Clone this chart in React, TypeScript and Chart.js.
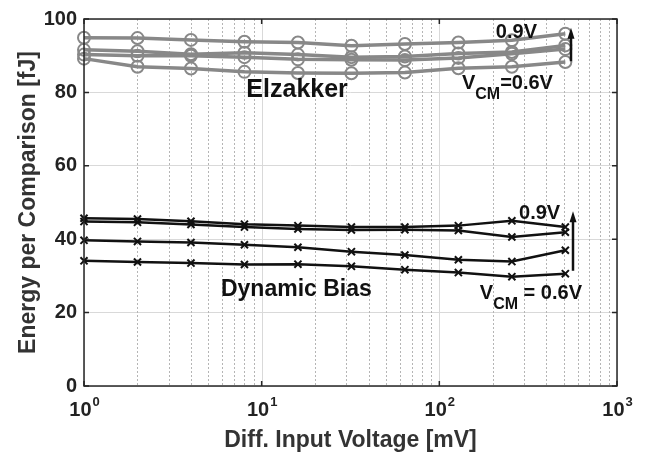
import React, { useEffect, useRef } from 'react';
import { Chart, registerables } from 'chart.js';

Chart.register(...registerables);

// ---------- data ----------
const diffInputVoltage = [1, 2, 4, 8, 16, 32, 64, 128, 256, 512];

const elzakker09V = [94.9, 94.8, 94.3, 93.8, 93.6, 92.7, 93.2, 93.6, 94.2, 96.0];
const elzakker08V = [91.6, 91.2, 90.4, 90.8, 90.3, 89.6, 89.8, 90.6, 91.0, 92.8];
const elzakker07V = [90.3, 90.0, 90.0, 89.6, 89.0, 88.9, 88.8, 89.4, 90.5, 91.8];
const elzakker06V = [89.2, 87.0, 86.5, 85.6, 85.3, 85.2, 85.4, 86.6, 87.0, 88.3];

const dynBias09V = [45.7, 45.5, 44.9, 44.1, 43.7, 43.3, 43.3, 43.7, 45.0, 43.3];
const dynBias08V = [44.8, 44.6, 44.0, 43.3, 42.8, 42.5, 42.6, 42.4, 40.6, 41.9];
const dynBias07V = [39.7, 39.4, 39.1, 38.5, 37.8, 36.6, 35.7, 34.4, 33.9, 37.0];
const dynBias06V = [34.1, 33.8, 33.5, 33.1, 33.2, 32.6, 31.7, 30.9, 29.8, 30.6];

const yTickValues = [0, 20, 40, 60, 80, 100];
const xTickExponents = [0, 1, 2, 3];

const xTitle = 'Diff. Input Voltage [mV]';
const yTitle = 'Energy per Comparison [fJ]';

// ---------- styles ----------
const FONT = '"Liberation Sans", Arial, Helvetica, sans-serif';
const GRAY = '#888888';
const BLACK = '#111111';

const toPoints = (vals: number[]) => vals.map((v, i) => ({ x: diffInputVoltage[i], y: v }));

const elzStyle = {
  borderColor: GRAY,
  borderWidth: 3.5,
  pointStyle: 'circle',
  pointRadius: 6,
  pointBorderWidth: 2,
  pointBorderColor: GRAY,
  pointBackgroundColor: 'rgba(0,0,0,0)',
  clip: false as any,
};
const dbStyle = {
  borderColor: BLACK,
  borderWidth: 2.5,
  pointStyle: 'crossRot',
  pointRadius: 5,
  pointBorderWidth: 2,
  pointBorderColor: BLACK,
  pointBackgroundColor: BLACK,
  clip: false as any,
};

function drawRich(ctx: CanvasRenderingContext2D, x: number, y: number, parts: { t: string; size: number; dy?: number }[]) {
  let cx = x;
  for (const p of parts) {
    ctx.font = `bold ${p.size}px ${FONT}`;
    ctx.fillText(p.t, cx, y + (p.dy || 0));
    cx += ctx.measureText(p.t).width;
  }
}

function drawArrow(ctx: CanvasRenderingContext2D, x: number, yFrom: number, yTo: number) {
  const head = 11;
  const hw = 3.5;
  ctx.strokeStyle = BLACK;
  ctx.fillStyle = BLACK;
  ctx.lineWidth = 2.5;
  ctx.beginPath();
  ctx.moveTo(x, yFrom);
  ctx.lineTo(x, yTo + head - 1);
  ctx.stroke();
  ctx.beginPath();
  ctx.moveTo(x, yTo);
  ctx.lineTo(x - hw, yTo + head);
  ctx.lineTo(x + hw, yTo + head);
  ctx.closePath();
  ctx.fill();
}

const decorPlugin = {
  id: 'decor',
  beforeDatasetsDraw(chart: any) {
    const { ctx, chartArea: a, scales } = chart;
    const x = scales.x;
    ctx.save();
    // minor dotted x grid
    ctx.strokeStyle = '#b5b5b5';
    ctx.lineWidth = 1;
    ctx.setLineDash([2, 2]);
    for (let d = 0; d < 3; d++) {
      for (let k = 2; k <= 9; k++) {
        const px = Math.round(x.getPixelForValue(k * Math.pow(10, d))) + 0.5;
        ctx.beginPath();
        ctx.moveTo(px, a.top);
        ctx.lineTo(px, a.bottom);
        ctx.stroke();
      }
    }
    // major x grid
    ctx.setLineDash([]);
    ctx.strokeStyle = '#d9d9d9';
    for (const e of xTickExponents) {
      const px = Math.round(x.getPixelForValue(Math.pow(10, e))) + 0.5;
      ctx.beginPath();
      ctx.moveTo(px, a.top);
      ctx.lineTo(px, a.bottom);
      ctx.stroke();
    }
    ctx.restore();
  },
  afterDraw(chart: any) {
    const { ctx, chartArea: a, scales } = chart;
    const x = scales.x;
    const y = scales.y;
    ctx.save();
    // frame
    ctx.strokeStyle = '#262626';
    ctx.lineWidth = 1.5;
    ctx.strokeRect(a.left, a.top, a.right - a.left, a.bottom - a.top);
    // tick marks (inward)
    const tl = 5;
    ctx.beginPath();
    for (const v of yTickValues) {
      const py = y.getPixelForValue(v);
      ctx.moveTo(a.left, py);
      ctx.lineTo(a.left + tl, py);
      ctx.moveTo(a.right, py);
      ctx.lineTo(a.right - tl, py);
    }
    for (const e of xTickExponents) {
      const px = x.getPixelForValue(Math.pow(10, e));
      ctx.moveTo(px, a.bottom);
      ctx.lineTo(px, a.bottom - tl);
      ctx.moveTo(px, a.top);
      ctx.lineTo(px, a.top + tl);
    }
    ctx.stroke();

    // x tick labels 10^n
    ctx.fillStyle = '#222222';
    ctx.textBaseline = 'alphabetic';
    ctx.textAlign = 'left';
    for (const e of xTickExponents) {
      const px = x.getPixelForValue(Math.pow(10, e));
      ctx.font = `bold 20px ${FONT}`;
      const wb = ctx.measureText('10').width;
      ctx.font = `bold 13px ${FONT}`;
      const we = ctx.measureText(String(e)).width;
      const sx = px - (wb + we) / 2;
      ctx.font = `bold 20px ${FONT}`;
      ctx.fillText('10', sx, a.bottom + 30);
      ctx.font = `bold 13px ${FONT}`;
      ctx.fillText(String(e), sx + wb + 1, a.bottom + 20);
    }

    // annotations (anchored in data coordinates)
    ctx.fillStyle = BLACK;
    const X = (v: number) => x.getPixelForValue(v);
    const Y = (v: number) => y.getPixelForValue(v);
    drawRich(ctx, X(8.2), Y(78.8), [{ t: 'Elzakker', size: 25 }]);
    drawRich(ctx, X(5.9), Y(24.5), [{ t: 'Dynamic Bias', size: 23 }]);
    drawRich(ctx, X(208), Y(94.9), [{ t: '0.9V', size: 20 }]);
    drawRich(ctx, X(134), Y(80.9), [
      { t: 'V', size: 20 },
      { t: 'CM', size: 16, dy: 10 },
      { t: '=0.6V', size: 20 },
    ]);
    drawRich(ctx, X(281), Y(45.5), [{ t: '0.9V', size: 20 }]);
    drawRich(ctx, X(169), Y(23.7), [
      { t: 'V', size: 20 },
      { t: 'CM', size: 16, dy: 10 },
      { t: ' = 0.6V', size: 20 },
    ]);
    drawArrow(ctx, Math.round(X(551)), Y(88.5), Y(97.6));
    drawArrow(ctx, Math.round(X(565)), Y(31.4), Y(47.6));
    ctx.restore();
  },
};

export default function App() {
  const ref = useRef<HTMLCanvasElement | null>(null);

  useEffect(() => {
    if (!ref.current) return;
    const chart = new Chart(ref.current, {
      type: 'line',
      data: {
        datasets: [
          { label: 'Elzakker 0.9V', data: toPoints(elzakker09V), ...elzStyle },
          { label: 'Elzakker 0.8V', data: toPoints(elzakker08V), ...elzStyle },
          { label: 'Elzakker 0.7V', data: toPoints(elzakker07V), ...elzStyle },
          { label: 'Elzakker 0.6V', data: toPoints(elzakker06V), ...elzStyle },
          { label: 'Dynamic Bias 0.9V', data: toPoints(dynBias09V), ...dbStyle },
          { label: 'Dynamic Bias 0.8V', data: toPoints(dynBias08V), ...dbStyle },
          { label: 'Dynamic Bias 0.7V', data: toPoints(dynBias07V), ...dbStyle },
          { label: 'Dynamic Bias 0.6V', data: toPoints(dynBias06V), ...dbStyle },
        ] as any,
      },
      options: {
        animation: false,
        responsive: false,
        maintainAspectRatio: false,
        layout: { padding: { top: 10, right: 33, bottom: 0, left: 0 } },
        plugins: { legend: { display: false }, tooltip: { enabled: false } },
        elements: { line: { tension: 0 } },
        scales: {
          x: {
            type: 'logarithmic',
            min: 1,
            max: 1000,
            grid: { display: false },
            border: { display: false },
            ticks: { display: false },
            title: {
              display: true,
              text: xTitle,
              color: '#333333',
              font: { family: FONT, size: 23, weight: 'bold' },
              padding: { top: 0, bottom: 5 },
            },
            afterFit: (s: any) => {
              s.height = 73;
            },
          },
          y: {
            type: 'linear',
            min: 0,
            max: 100,
            afterBuildTicks: (s: any) => {
              s.ticks = yTickValues.map((v) => ({ value: v }));
            },
            ticks: {
              color: '#222222',
              padding: 7,
              font: { family: FONT, size: 20, weight: 'bold' },
            },
            grid: { color: '#d9d9d9', drawTicks: false, lineWidth: 1 },
            border: { display: false },
            title: {
              display: true,
              text: yTitle,
              color: '#333333',
              font: { family: FONT, size: 23, weight: 'bold' },
              padding: { top: 15, bottom: 0 },
            },
            afterFit: (s: any) => {
              s.width = 84;
            },
          },
        },
      } as any,
      plugins: [decorPlugin as any],
    });
    return () => chart.destroy();
  }, []);

  return (
    <div style={{ position: 'absolute', left: 0, top: 0, width: 650, height: 459, background: '#fff' }}>
      <canvas ref={ref} width={650} height={459} style={{ display: 'block', width: 650, height: 459 }} />
    </div>
  );
}
